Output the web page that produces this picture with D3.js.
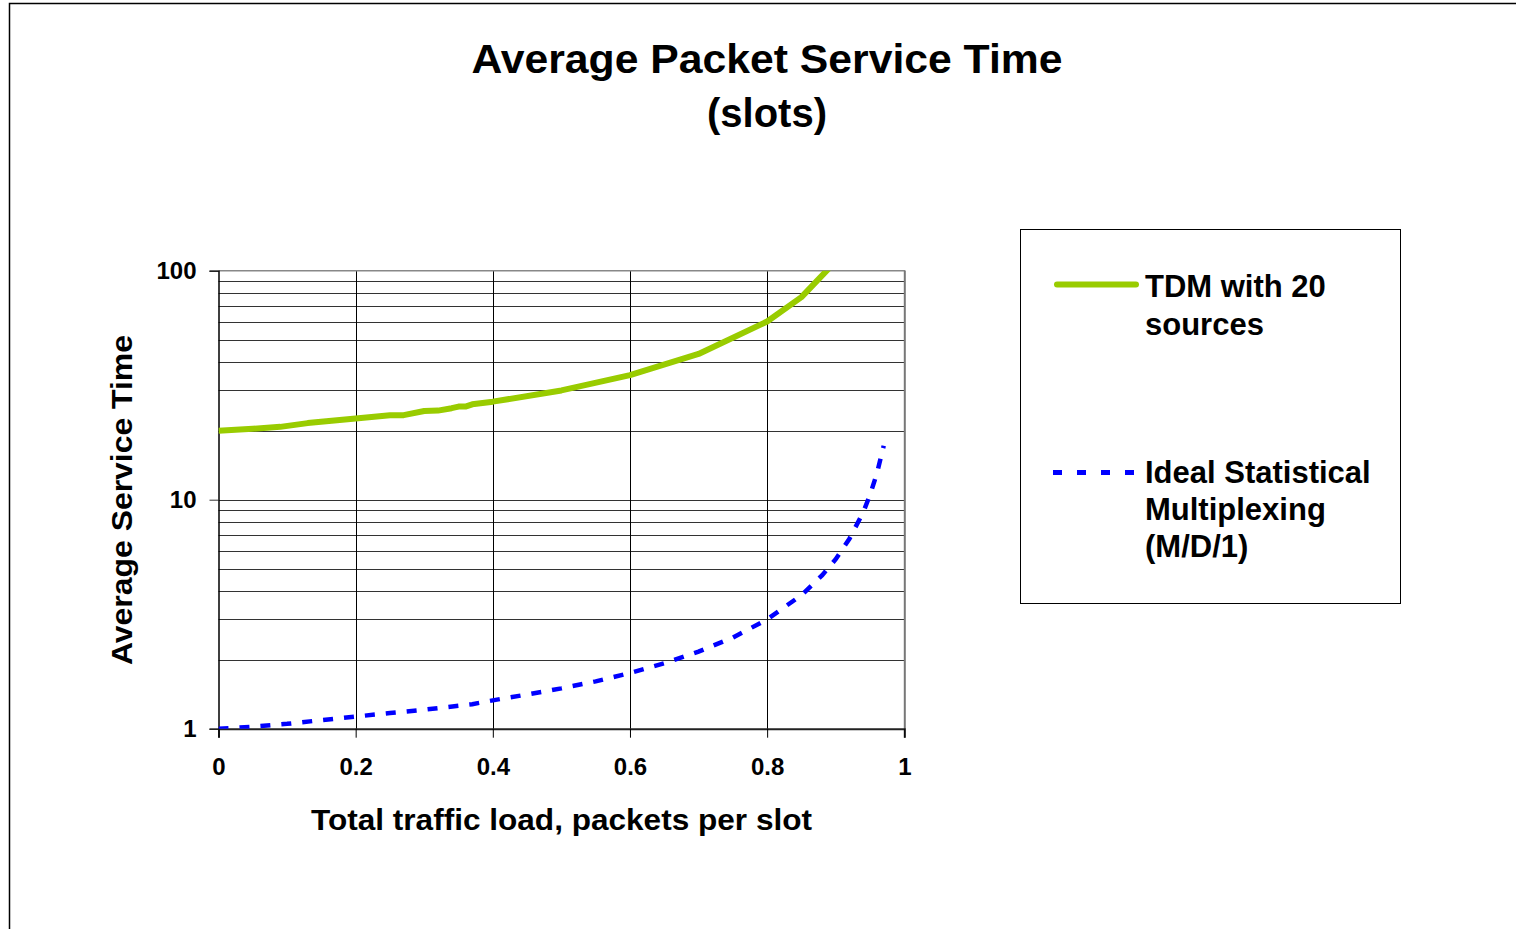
<!DOCTYPE html>
<html>
<head>
<meta charset="utf-8">
<script src="https://cdn.jsdelivr.net/npm/d3@7"></script>
<style>
  html, body { margin: 0; padding: 0; background: #fff; }
  svg { display: block; }
  text { font-family: "Liberation Sans", Arial, sans-serif; font-weight: bold; fill: #000; }
</style>
</head>
<body>
<svg id="chart" width="1516" height="929"></svg>
<script>
// ---- data ----
const titleLines = ["Average Packet Service Time", "(slots)"];
const xLabel = "Total traffic load, packets per slot";
const yLabel = "Average Service Time";

const xTicks = [0, 0.2, 0.4, 0.6, 0.8, 1];
const yTicks = [1, 10, 100];

const tdmLoad  = [0, 0.05, 0.09, 0.13, 0.2, 0.25, 0.27, 0.3, 0.32, 0.34, 0.35, 0.36, 0.37, 0.4, 0.5, 0.6, 0.7, 0.8, 0.85, 0.9];
const tdmTime  = [20, 20.4, 20.8, 21.6, 22.6, 23.4, 23.4, 24.4, 24.5, 25.1, 25.5, 25.5, 26.1, 26.8, 30, 35, 43.3, 60, 76.7, 110];

const md1Load  = [0, 0.05, 0.1, 0.15, 0.2, 0.25, 0.3, 0.35, 0.37, 0.4, 0.45, 0.5, 0.55, 0.6, 0.65, 0.7, 0.75, 0.8, 0.85, 0.88, 0.9, 0.92, 0.94, 0.95, 0.96, 0.97];
const md1Time  = [1.0, 1.02, 1.05, 1.09, 1.13, 1.17, 1.21, 1.26, 1.28, 1.33, 1.41, 1.5, 1.61, 1.75, 1.93, 2.17, 2.5, 3.0, 3.83, 4.67, 5.5, 6.75, 8.8, 10.5, 13.0, 17.2];

const seriesNames = [["TDM with 20", "sources"], ["Ideal Statistical", "Multiplexing", "(M/D/1)"]];
const seriesColors = ["#99CC00", "#0000FF"];

// ---- layout ----
const svg = d3.select("#chart");
const L = 218.5, R = 904.3, T = 270.7, B = 728.7;
const x = d3.scaleLinear().domain([0, 1]).range([L, R]);
const y = d3.scaleLog().domain([1, 100]).range([B, T]);

// outer frame
svg.append("rect").attr("x", 9.5).attr("y", 3.5).attr("width", 1520).attr("height", 940)
  .attr("fill", "none").attr("stroke", "#000").attr("stroke-width", 1.5);

// title
svg.append("text").attr("x", 767).attr("y", 73).attr("text-anchor", "middle")
  .attr("font-size", 40).attr("textLength", 591).attr("lengthAdjust", "spacingAndGlyphs").text(titleLines[0]);
svg.append("text").attr("x", 767).attr("y", 127).attr("text-anchor", "middle")
  .attr("font-size", 40).text(titleLines[1]);

// clip
svg.append("clipPath").attr("id", "plotclip").append("rect")
  .attr("x", L).attr("y", T).attr("width", R - L).attr("height", B - T);

// horizontal gridlines (major + minor)
const hGrid = [];
for (let d = 1; d < 100; d *= 10) for (let k = 1; k < 10; k++) hGrid.push(d * k);
svg.append("g").selectAll("line").data(hGrid.filter(v => v > 1)).join("line")
  .attr("x1", L).attr("x2", R)
  .attr("y1", d => Math.round(y(d)) + 0.5).attr("y2", d => Math.round(y(d)) + 0.5)
  .attr("stroke", "#333").attr("stroke-width", 1);

// vertical gridlines
svg.append("g").selectAll("line").data(xTicks.filter(v => v > 0 && v < 1)).join("line")
  .attr("x1", d => Math.round(x(d)) + 0.5).attr("x2", d => Math.round(x(d)) + 0.5)
  .attr("y1", T).attr("y2", B)
  .attr("stroke", "#000").attr("stroke-width", 1);

// plot border top/right (gray)
svg.append("line").attr("x1", L).attr("x2", R + 1).attr("y1", T).attr("y2", T).attr("stroke", "#888").attr("stroke-width", 1.5);
svg.append("line").attr("x1", R + 0.5).attr("x2", R + 0.5).attr("y1", T).attr("y2", B).attr("stroke", "#777").attr("stroke-width", 2);

// axes
const yAxis = d3.axisLeft(y).tickValues(yTicks).tickSize(9).tickPadding(13).tickFormat(d3.format("d"));
const gy = svg.append("g").attr("transform", `translate(${L},0)`).call(yAxis);
gy.select(".domain").attr("stroke", "#000").attr("stroke-width", 1.5);
gy.selectAll(".tick line").attr("stroke", "#333");
gy.selectAll(".tick text").attr("font-size", 24).attr("font-family", "Liberation Sans, Arial, sans-serif").attr("font-weight", "bold").attr("fill", "#000");

const xAxis = d3.axisBottom(x).tickValues(xTicks).tickSize(9).tickPadding(20)
  .tickFormat(d => (d === 0 || d === 1) ? String(d) : d3.format(".1f")(d));
const gx = svg.append("g").attr("transform", `translate(0,${B})`).call(xAxis);
gx.select(".domain").attr("stroke", "#222").attr("stroke-width", 2);
gx.selectAll(".tick line").attr("stroke", "#000");
gx.selectAll(".tick text").attr("font-size", 24).attr("font-family", "Liberation Sans, Arial, sans-serif").attr("font-weight", "bold").attr("fill", "#000");

// axis titles
svg.append("text").attr("x", 561.5).attr("y", 830).attr("text-anchor", "middle")
  .attr("font-size", 30).attr("textLength", 501).attr("lengthAdjust", "spacingAndGlyphs").text(xLabel);
svg.append("text").attr("transform", "translate(132,500) rotate(-90)").attr("text-anchor", "middle")
  .attr("font-size", 30).attr("textLength", 330).attr("lengthAdjust", "spacingAndGlyphs").text(yLabel);

// series
const line = d3.line().x(d => x(d[0])).y(d => y(d[1]));
const plot = svg.append("g").attr("clip-path", "url(#plotclip)");
plot.append("path").datum(md1Load.map((v, i) => [v, md1Time[i]]))
  .attr("d", line).attr("fill", "none").attr("stroke", seriesColors[1])
  .attr("stroke-width", 4.5).attr("stroke-dasharray", "10,11");
plot.append("path").datum(tdmLoad.map((v, i) => [v, tdmTime[i]]))
  .attr("d", line).attr("fill", "none").attr("stroke", seriesColors[0])
  .attr("stroke-width", 6).attr("stroke-linejoin", "round");

// legend
const lg = svg.append("g");
lg.append("rect").attr("x", 1020.5).attr("y", 229.5).attr("width", 380).attr("height", 374)
  .attr("fill", "#fff").attr("stroke", "#000").attr("stroke-width", 1);
lg.append("line").attr("x1", 1057).attr("x2", 1136).attr("y1", 284.5).attr("y2", 284.5)
  .attr("stroke", seriesColors[0]).attr("stroke-width", 6).attr("stroke-linecap", "round");
lg.append("line").attr("x1", 1053).attr("x2", 1135).attr("y1", 472.5).attr("y2", 472.5)
  .attr("stroke", seriesColors[1]).attr("stroke-width", 5).attr("stroke-dasharray", "9,15");
const legendBase = [[297, 335], [483, 520, 557]];
seriesNames.forEach((lines, si) => {
  lines.forEach((t, li) => {
    lg.append("text").attr("x", 1145).attr("y", legendBase[si][li]).attr("font-size", 31).text(t);
  });
});
</script>
</body>
</html>
